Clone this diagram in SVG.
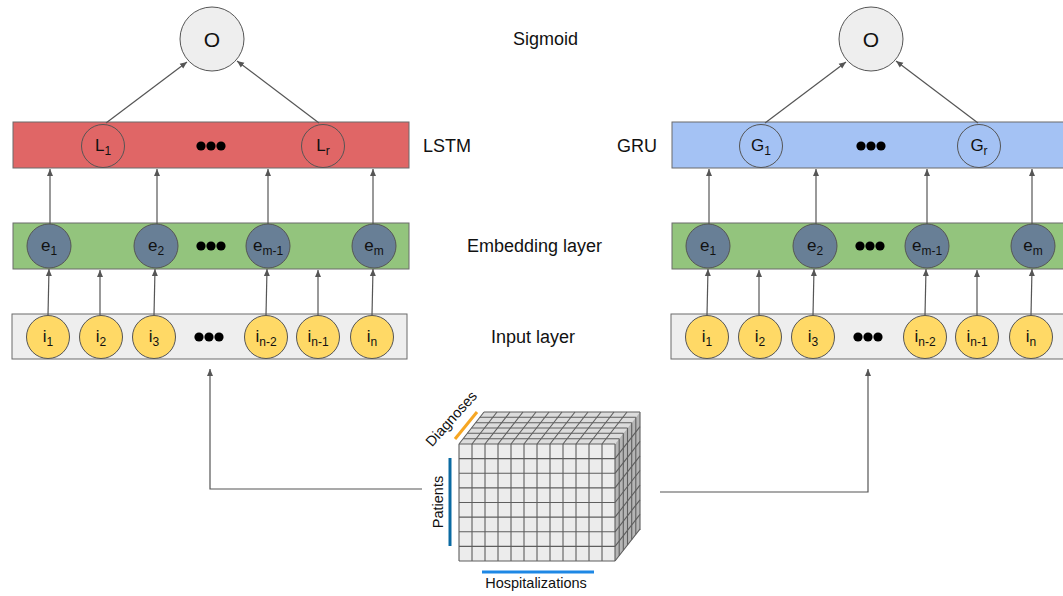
<svg xmlns="http://www.w3.org/2000/svg" width="1063" height="596" viewBox="0 0 1063 596">
<defs>
<marker id="ah" markerWidth="8" markerHeight="8" refX="7" refY="4" orient="auto" markerUnits="userSpaceOnUse">
<path d="M0,1 L7,4 L0,7 Z" fill="#555"/>
</marker>
<style>
text{font-family:"Liberation Sans",Arial,sans-serif;fill:#111}
.lbl{font-size:18px}
.sub{font-size:12px}
.nt{font-size:17px;text-anchor:middle}
.band{stroke:#6b6b6b;stroke-width:1}
.cir{stroke:#555;stroke-width:1}
.con{stroke:#555;stroke-width:1.2;fill:none;marker-end:url(#ah)}
.dot{fill:#000}
.grid{stroke:#5e5e5e;stroke-width:1.1;fill:none}
</style>
</defs>
<rect width="1063" height="596" fill="#fff"/>

<!-- LEFT PANEL -->
<g id="left-output">
<circle cx="212" cy="39" r="32" fill="#eeeeee" class="cir"/>
<text x="212" y="47" style="font-size:21px;text-anchor:middle">O</text>
</g>
<g id="left-lstm">
<rect x="13" y="122" width="396" height="46" fill="#e06666" class="band"/>
<circle cx="103" cy="146" r="21.5" fill="none" class="cir"/>
<text x="103" y="151" class="nt">L<tspan class="sub" dy="4">1</tspan></text>
<circle cx="323" cy="146" r="21.5" fill="none" class="cir"/>
<text x="323" y="151" class="nt">L<tspan class="sub" dy="4">r</tspan></text>
<circle cx="201" cy="146" r="4.6" class="dot"/><circle cx="211" cy="146" r="4.6" class="dot"/><circle cx="221" cy="146" r="4.6" class="dot"/>
</g>
<g id="left-embedding">
<rect x="13" y="223" width="396" height="46" fill="#93c47d" class="band"/>
<circle cx="49" cy="246" r="22" fill="#687f96" class="cir"/>
<text x="49" y="251" class="nt">e<tspan class="sub" dy="4">1</tspan></text>
<circle cx="156" cy="246" r="22" fill="#687f96" class="cir"/>
<text x="156" y="251" class="nt">e<tspan class="sub" dy="4">2</tspan></text>
<circle cx="201" cy="246" r="4.6" class="dot"/><circle cx="211" cy="246" r="4.6" class="dot"/><circle cx="221" cy="246" r="4.6" class="dot"/>
<circle cx="268" cy="246" r="22" fill="#687f96" class="cir"/>
<text x="268" y="251" class="nt">e<tspan class="sub" dy="4">m-1</tspan></text>
<circle cx="374" cy="246" r="22" fill="#687f96" class="cir"/>
<text x="374" y="251" class="nt">e<tspan class="sub" dy="4">m</tspan></text>
</g>
<g id="left-input">
<rect x="12" y="314" width="395" height="45" fill="#eeeeee" class="band"/>
<circle cx="48" cy="337" r="21.5" fill="#ffd966" class="cir"/>
<text x="48" y="342" class="nt">i<tspan class="sub" dy="4">1</tspan></text>
<circle cx="101" cy="337" r="21.5" fill="#ffd966" class="cir"/>
<text x="101" y="342" class="nt">i<tspan class="sub" dy="4">2</tspan></text>
<circle cx="154" cy="337" r="21.5" fill="#ffd966" class="cir"/>
<text x="154" y="342" class="nt">i<tspan class="sub" dy="4">3</tspan></text>
<circle cx="199" cy="337" r="4.6" class="dot"/><circle cx="209" cy="337" r="4.6" class="dot"/><circle cx="219" cy="337" r="4.6" class="dot"/>
<circle cx="266" cy="337" r="21.5" fill="#ffd966" class="cir"/>
<text x="266" y="342" class="nt">i<tspan class="sub" dy="4">n-2</tspan></text>
<circle cx="318" cy="337" r="21.5" fill="#ffd966" class="cir"/>
<text x="318" y="342" class="nt">i<tspan class="sub" dy="4">n-1</tspan></text>
<circle cx="372" cy="337" r="21.5" fill="#ffd966" class="cir"/>
<text x="372" y="342" class="nt">i<tspan class="sub" dy="4">n</tspan></text>
</g>

<!-- RIGHT PANEL -->
<g id="right-output">
<circle cx="871" cy="39" r="32" fill="#eeeeee" class="cir"/>
<text x="871" y="47" style="font-size:21px;text-anchor:middle">O</text>
</g>
<g id="right-gru">
<rect x="672" y="122" width="396" height="46" fill="#a4c2f4" class="band"/>
<circle cx="761" cy="146" r="21.5" fill="none" class="cir"/>
<text x="761" y="151" class="nt">G<tspan class="sub" dy="4">1</tspan></text>
<circle cx="979" cy="146" r="21.5" fill="none" class="cir"/>
<text x="979" y="151" class="nt">G<tspan class="sub" dy="4">r</tspan></text>
<circle cx="861" cy="146" r="4.6" class="dot"/><circle cx="871" cy="146" r="4.6" class="dot"/><circle cx="881" cy="146" r="4.6" class="dot"/>
</g>
<g id="right-embedding">
<rect x="672" y="223" width="396" height="46" fill="#93c47d" class="band"/>
<circle cx="708" cy="246" r="22" fill="#687f96" class="cir"/>
<text x="708" y="251" class="nt">e<tspan class="sub" dy="4">1</tspan></text>
<circle cx="815" cy="246" r="22" fill="#687f96" class="cir"/>
<text x="815" y="251" class="nt">e<tspan class="sub" dy="4">2</tspan></text>
<circle cx="860" cy="246" r="4.6" class="dot"/><circle cx="870" cy="246" r="4.6" class="dot"/><circle cx="880" cy="246" r="4.6" class="dot"/>
<circle cx="927" cy="246" r="22" fill="#687f96" class="cir"/>
<text x="927" y="251" class="nt">e<tspan class="sub" dy="4">m-1</tspan></text>
<circle cx="1033" cy="246" r="22" fill="#687f96" class="cir"/>
<text x="1033" y="251" class="nt">e<tspan class="sub" dy="4">m</tspan></text>
</g>
<g id="right-input">
<rect x="671" y="314" width="395" height="45" fill="#eeeeee" class="band"/>
<circle cx="707" cy="337" r="21.5" fill="#ffd966" class="cir"/>
<text x="707" y="342" class="nt">i<tspan class="sub" dy="4">1</tspan></text>
<circle cx="760" cy="337" r="21.5" fill="#ffd966" class="cir"/>
<text x="760" y="342" class="nt">i<tspan class="sub" dy="4">2</tspan></text>
<circle cx="813" cy="337" r="21.5" fill="#ffd966" class="cir"/>
<text x="813" y="342" class="nt">i<tspan class="sub" dy="4">3</tspan></text>
<circle cx="858" cy="337" r="4.6" class="dot"/><circle cx="868" cy="337" r="4.6" class="dot"/><circle cx="878" cy="337" r="4.6" class="dot"/>
<circle cx="925" cy="337" r="21.5" fill="#ffd966" class="cir"/>
<text x="925" y="342" class="nt">i<tspan class="sub" dy="4">n-2</tspan></text>
<circle cx="977" cy="337" r="21.5" fill="#ffd966" class="cir"/>
<text x="977" y="342" class="nt">i<tspan class="sub" dy="4">n-1</tspan></text>
<circle cx="1031" cy="337" r="21.5" fill="#ffd966" class="cir"/>
<text x="1031" y="342" class="nt">i<tspan class="sub" dy="4">n</tspan></text>
</g>

<!-- LABELS -->
<g id="labels">
<text x="513" y="45" class="lbl">Sigmoid</text>
<text x="423" y="152" class="lbl">LSTM</text>
<text x="617" y="152" class="lbl">GRU</text>
<text x="467" y="252" class="lbl">Embedding layer</text>
<text x="491" y="343" class="lbl">Input layer</text>
</g>

<!-- CUBE -->
<g id="data-cube">
<path d="M459,444 L615,444 L640,412 L484,412 Z" fill="#dcdcdc"/>
<path d="M615,444 L640,412 L640,530 L615,561 Z" fill="#b5b5b5"/>
<rect x="459" y="444" width="156" height="117" fill="#ececec"/>
<g class="grid">
<path d="M459,444 H615 M459,458.6 H615 M459,473.3 H615 M459,487.9 H615 M459,502.5 H615 M459,517.1 H615 M459,531.8 H615 M459,546.4 H615 M459,561 H615"/>
<path d="M459,444 V561 M472,444 V561 M485,444 V561 M498,444 V561 M511,444 V561 M524,444 V561 M537,444 V561 M550,444 V561 M563,444 V561 M576,444 V561 M589,444 V561 M602,444 V561 M615,444 V561"/>
<path d="M463.2,438.7 H619.2 M467.3,433.3 H623.3 M471.5,428 H627.5 M475.7,422.7 H631.7 M479.8,417.3 H635.8 M484,412 H640"/>
<path d="M459,444 L484,412 M472,444 L497,412 M485,444 L510,412 M498,444 L523,412 M511,444 L536,412 M524,444 L549,412 M537,444 L562,412 M550,444 L575,412 M563,444 L588,412 M576,444 L601,412 M589,444 L614,412 M602,444 L627,412"/>
<path d="M619.2,438.7 V555.7 M623.3,433.3 V550.3 M627.5,428 V545 M631.7,422.7 V539.7 M635.8,417.3 V534.3 M640,412 V530"/>
<path d="M615,458.6 L640,426.6 M615,473.3 L640,441.3 M615,487.9 L640,455.9 M615,502.5 L640,470.5 M615,517.1 L640,485.1 M615,531.8 L640,499.8 M615,546.4 L640,514.4 M615,561 L640,529"/>
</g>
<line x1="455" y1="439" x2="477" y2="412" stroke="#f6a623" stroke-width="3"/>
<line x1="450" y1="458" x2="450" y2="546" stroke="#0b6aa2" stroke-width="3"/>
<line x1="482" y1="572" x2="594" y2="572" stroke="#1e88e5" stroke-width="3"/>
<text transform="translate(455,422) rotate(-48)" style="font-size:14.5px;text-anchor:middle">Diagnoses</text>
<text transform="translate(443,502) rotate(-90)" style="font-size:14.5px;text-anchor:middle">Patients</text>
<text x="536" y="588" style="font-size:14.5px;text-anchor:middle">Hospitalizations</text>
</g>

<!-- CONNECTORS -->
<g id="connectors">
<line x1="106" y1="123" x2="187" y2="62" class="con"/>
<line x1="319" y1="123" x2="237" y2="61" class="con"/>
<line x1="50" y1="224" x2="50" y2="169" class="con"/>
<line x1="157" y1="224" x2="157" y2="169" class="con"/>
<line x1="268" y1="224" x2="268" y2="169" class="con"/>
<line x1="373" y1="224" x2="373" y2="169" class="con"/>
<line x1="48" y1="315" x2="49" y2="269" class="con"/>
<line x1="100" y1="315" x2="100" y2="270" class="con"/>
<line x1="154" y1="315" x2="155" y2="269" class="con"/>
<line x1="266" y1="315" x2="267" y2="269" class="con"/>
<line x1="318" y1="315" x2="318" y2="270" class="con"/>
<line x1="372" y1="315" x2="373" y2="269" class="con"/>
<line x1="765" y1="123" x2="846" y2="62" class="con"/>
<line x1="978" y1="123" x2="896" y2="61" class="con"/>
<line x1="709" y1="224" x2="709" y2="169" class="con"/>
<line x1="816" y1="224" x2="816" y2="169" class="con"/>
<line x1="927" y1="224" x2="927" y2="169" class="con"/>
<line x1="1032" y1="224" x2="1032" y2="169" class="con"/>
<line x1="707" y1="315" x2="708" y2="269" class="con"/>
<line x1="759" y1="315" x2="759" y2="270" class="con"/>
<line x1="813" y1="315" x2="814" y2="269" class="con"/>
<line x1="925" y1="315" x2="926" y2="269" class="con"/>
<line x1="977" y1="315" x2="977" y2="270" class="con"/>
<line x1="1031" y1="315" x2="1032" y2="269" class="con"/>
<polyline points="422,489 210,489 210,369" class="con"/>
<polyline points="660,492 868,492 868,369" class="con"/>
</g>
</svg>
